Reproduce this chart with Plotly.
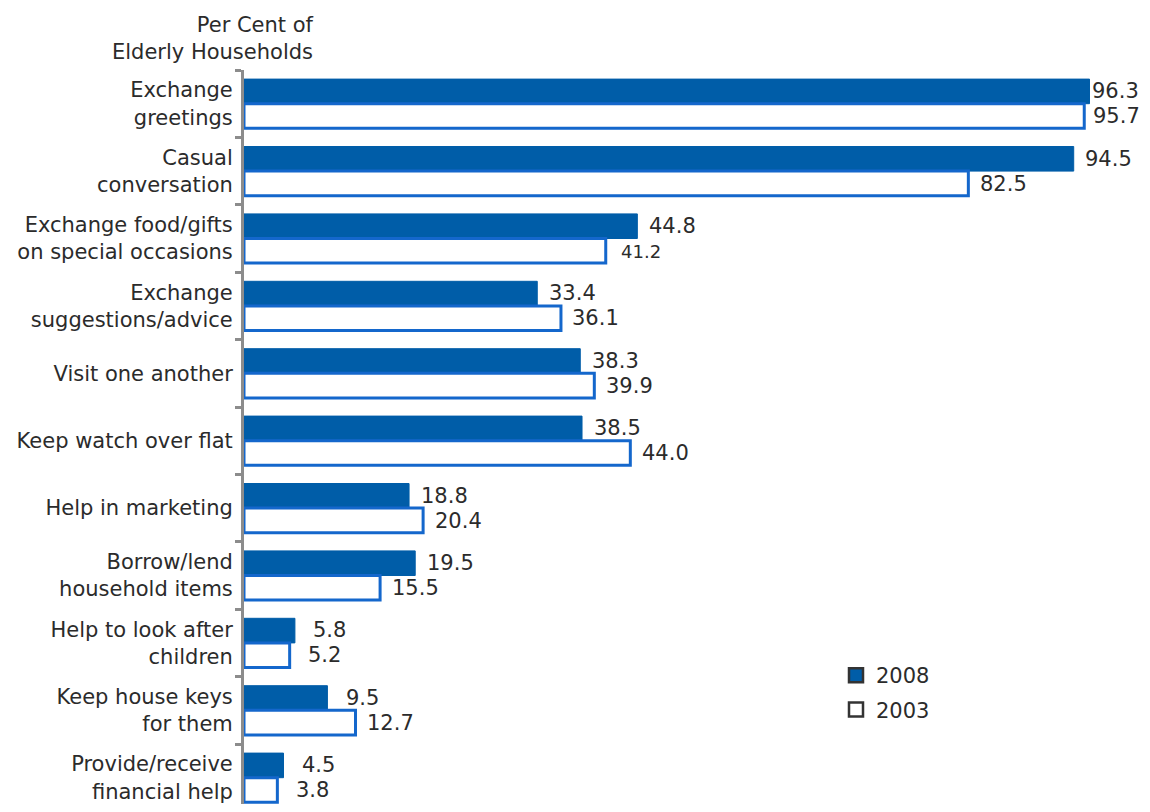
import plotly.graph_objects as go

categories = [
    "Exchange<br>greetings",
    "Casual<br>conversation",
    "Exchange food/gifts<br>on special occasions",
    "Exchange<br>suggestions/advice",
    "Visit one another",
    "Keep watch over flat",
    "Help in marketing",
    "Borrow/lend<br>household items",
    "Help to look after<br>children",
    "Keep house keys<br>for them",
    "Provide/receive<br>financial help",
]
values_2008 = [96.3, 94.5, 44.8, 33.4, 38.3, 38.5, 18.8, 19.5, 5.8, 9.5, 4.5]
values_2003 = [95.7, 82.5, 41.2, 36.1, 39.9, 44.0, 20.4, 15.5, 5.2, 12.7, 3.8]
series_names = ["2008", "2003"]

FONT = "DejaVu Sans, Verdana, sans-serif"
FS = 21
TXT = "#2b2b2b"
C2008 = "#005DA8"
C2003 = "#1467CC"

# page body has an 8px margin: figure is sized/offset to compensate
W, H = 1134, 796
L, T = 236, 62
PW = 878
R = W - L - PW
PH = H - T
BAND = 67.4
n_vis = PH / BAND
XMAX = 100.0
PX_PER_UNIT = PW / XMAX


def label_shift(v, half_width=24, default=35):
    # keep the value label inside the drawable width
    bar_end = L + v * PX_PER_UNIT
    return min(default, W - 2 - half_width - bar_end)


fig = go.Figure()
fig.add_trace(go.Bar(
    y=categories, x=values_2008, orientation="h", name=series_names[0],
    marker=dict(color=C2008, line=dict(color=C2008, width=1)),
    showlegend=False,
))
fig.add_trace(go.Bar(
    y=categories, x=values_2003, orientation="h", name=series_names[1],
    marker=dict(color="white", line=dict(color=C2003, width=3)),
    showlegend=False,
))
# legend swatches
fig.add_trace(go.Scatter(
    x=[None], y=[None], mode="markers", name=series_names[0], legendgroup="a",
    marker=dict(symbol="square", size=14, color=C2008, line=dict(color="#333333", width=2.5)),
))
fig.add_trace(go.Scatter(
    x=[None], y=[None], mode="markers", name=series_names[1], legendgroup="b",
    marker=dict(symbol="square", size=14, color="white", line=dict(color="#333333", width=2.5)),
))

annotations = []
for cat, v in zip(categories, values_2008):
    annotations.append(dict(x=v, y=cat, xref="x", yref="y", text=f"{v:.1f}",
                            showarrow=False, xanchor="center", xshift=label_shift(v), yshift=12.5,
                            font=dict(family=FONT, size=FS, color=TXT)))
for cat, v in zip(categories, values_2003):
    size = 18 if cat.startswith("Exchange food") else FS
    annotations.append(dict(x=v, y=cat, xref="x", yref="y", text=f"{v:.1f}",
                            showarrow=False, xanchor="center", xshift=label_shift(v), yshift=-12.5,
                            font=dict(family=FONT, size=size, color=TXT)))
annotations.append(dict(x=(316 - 244) / PW, y=1, xref="paper", yref="paper",
                        text="Per Cent of<br>Elderly Households", showarrow=False,
                        xanchor="right", yanchor="bottom", yshift=4, align="right",
                        font=dict(family=FONT, size=FS, color=TXT)))

fig.update_layout(
    width=W, height=H,
    margin=dict(l=L, r=R, t=T, b=0, autoexpand=False),
    plot_bgcolor="white", paper_bgcolor="white",
    barmode="group", bargap=0.27, bargroupgap=0,
    font=dict(family=FONT, size=FS, color=TXT),
    annotations=annotations,
    legend=dict(x=(836 - 244) / PW, y=1 - (655 - 70) / PH, xanchor="left", yanchor="top",
                font=dict(family=FONT, size=FS, color=TXT),
                tracegroupgap=4, bgcolor="rgba(0,0,0,0)"),
    xaxis=dict(range=[0, XMAX], showgrid=False, zeroline=False, showticklabels=False,
               showline=False, fixedrange=True, automargin=False),
    yaxis=dict(range=[n_vis - 0.5, -0.5], type="category", showgrid=False, zeroline=False,
               showline=True, linecolor="#8c8c8c", linewidth=3,
               ticks="outside", ticklen=6, tickwidth=3, tickcolor="#8c8c8c",
               tickson="boundaries", ticklabelstandoff=4, automargin=False,
               tickfont=dict(family=FONT, size=FS, color=TXT)),
)

fig.write_html("out.html")
